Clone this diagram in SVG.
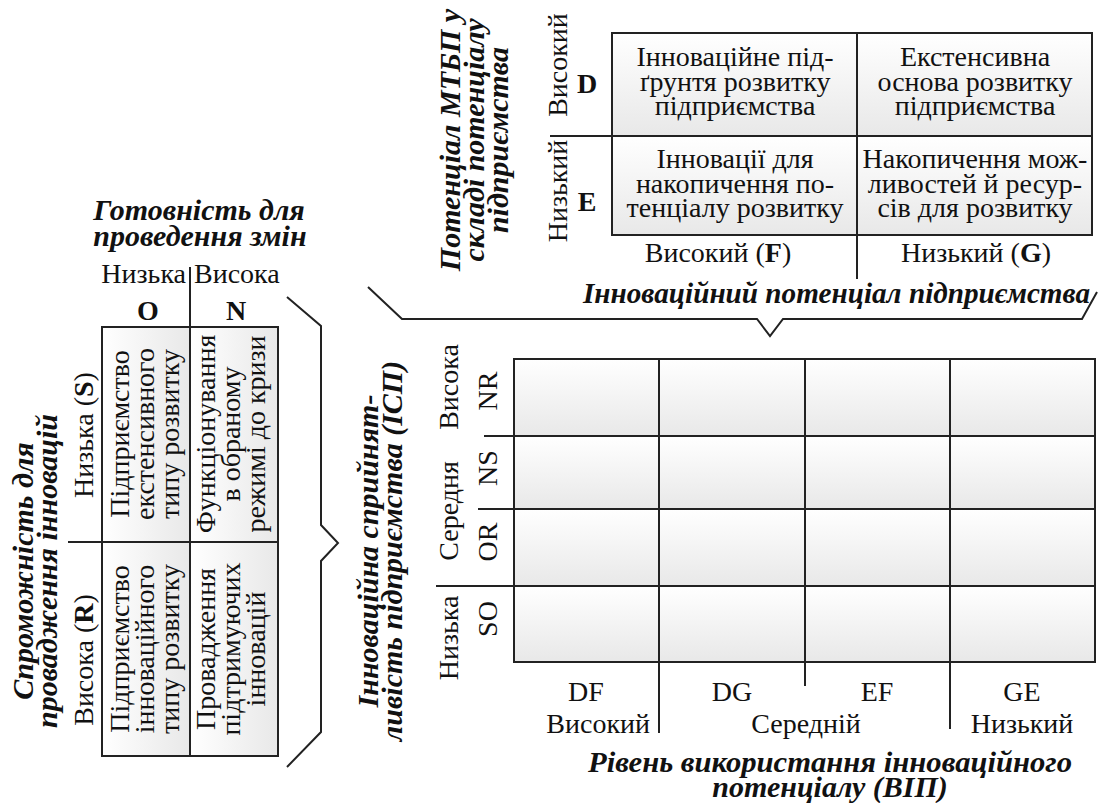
<svg xmlns="http://www.w3.org/2000/svg" width="1101" height="803" viewBox="0 0 1101 803">
<defs>
<linearGradient id="gv" x1="0" y1="0" x2="0" y2="1"><stop offset="0" stop-color="#ffffff"/><stop offset="1" stop-color="#e8e8e8"/></linearGradient>
<linearGradient id="gh" x1="0" y1="0" x2="1" y2="0"><stop offset="0" stop-color="#ffffff"/><stop offset="1" stop-color="#e8e8e8"/></linearGradient>
</defs>
<style>
text{font-size:28px;fill:#111}
.t{font-weight:bold;font-style:italic;font-size:30px}
.b{font-weight:bold}
.m{text-anchor:middle}
.e{text-anchor:end}
.cv{fill:url(#gv);stroke:#222;stroke-width:2}
.ch{fill:url(#gh);stroke:#222;stroke-width:2}
.ln{fill:none;stroke:#222;stroke-width:2}
.br{fill:none;stroke:#222;stroke-width:2;stroke-linejoin:miter}
</style>
<rect width="1101" height="803" fill="#fff"/>
<g id="grid">
<rect class="cv" x="514" y="359" width="145" height="77"/>
<rect class="cv" x="659" y="359" width="146" height="77"/>
<rect class="cv" x="805" y="359" width="145" height="77"/>
<rect class="cv" x="950" y="359" width="145" height="77"/>
<rect class="cv" x="514" y="436" width="145" height="73"/>
<rect class="cv" x="659" y="436" width="146" height="73"/>
<rect class="cv" x="805" y="436" width="145" height="73"/>
<rect class="cv" x="950" y="436" width="145" height="73"/>
<rect class="cv" x="514" y="509" width="145" height="77"/>
<rect class="cv" x="659" y="509" width="146" height="77"/>
<rect class="cv" x="805" y="509" width="145" height="77"/>
<rect class="cv" x="950" y="509" width="145" height="77"/>
<rect class="cv" x="514" y="586" width="145" height="76"/>
<rect class="cv" x="659" y="586" width="146" height="76"/>
<rect class="cv" x="805" y="586" width="145" height="76"/>
<rect class="cv" x="950" y="586" width="145" height="76"/>
</g>
<g font-family="Liberation Serif, DejaVu Serif, serif">

<!-- Top matrix -->
<g id="top-title">
<text class="t m" transform="translate(460,140) rotate(-90)"><tspan x="0" y="0">Потенціал МТБП у</tspan><tspan x="0" dy="24">складі потенціалу</tspan><tspan x="0" dy="24">підприємства</tspan></text>
</g>
<g id="top-row-labels">
<text class="m" transform="translate(567,65) rotate(-90)">Високий</text>
<text class="m" transform="translate(567,191) rotate(-90)">Низький</text>
<text class="b m" x="587" y="93">D</text>
<text class="b m" x="587" y="211">E</text>
</g>
<g id="cell-DF">
<rect class="cv" x="612" y="33" width="245" height="103"/>
<text class="m"><tspan x="735" y="66">Інноваційне під-</tspan><tspan x="735" y="91">ґрунтя розвитку</tspan><tspan x="735" y="115">підприємства</tspan></text>
</g>
<g id="cell-DG">
<rect class="cv" x="857" y="33" width="235" height="103"/>
<text class="m"><tspan x="975" y="66">Екстенсивна</tspan><tspan x="975" y="91">основа розвитку</tspan><tspan x="975" y="115">підприємства</tspan></text>
</g>
<g id="cell-EF">
<rect class="cv" x="612" y="136" width="245" height="99"/>
<text class="m"><tspan x="735" y="168">Інновації для</tspan><tspan x="735" y="193">накопичення по-</tspan><tspan x="735" y="217">тенціалу розвитку</tspan></text>
</g>
<g id="cell-EG">
<rect class="cv" x="857" y="136" width="235" height="99"/>
<text class="m"><tspan x="975" y="168">Накопичення мож-</tspan><tspan x="975" y="193">ливостей й ресур-</tspan><tspan x="975" y="217">сів для розвитку</tspan></text>
</g>
<g id="top-col-labels">
<text class="m" x="718" y="262">Високий (<tspan class="b">F</tspan>)</text>
<text class="m" x="976" y="262">Низький (<tspan class="b">G</tspan>)</text>
<text class="t e" x="1090" y="303" textLength="507" lengthAdjust="spacingAndGlyphs">Інноваційний потенціал підприємства</text>
</g>

<!-- Left matrix -->
<g id="left-title">
<text class="t m" x="199" y="220">Готовність для</text>
<text class="t m" x="200" y="246">проведення змін</text>
<text class="e" x="186" y="283">Низька</text>
<text x="194" y="283">Висока</text>
<text class="b m" x="148" y="320">O</text>
<text class="b m" x="236" y="320">N</text>
</g>
<g id="left-side-title">
<text class="t m" transform="translate(33,571) rotate(-90)"><tspan x="0" y="0">Спроможність для</tspan><tspan x="0" dy="24">провадження інновацій</tspan></text>
<text class="m" transform="translate(93,435) rotate(-90)">Низька (<tspan class="b">S</tspan>)</text>
<text class="m" transform="translate(93,660) rotate(-90)">Висока (<tspan class="b">R</tspan>)</text>
</g>
<g id="cell-OS">
<rect class="ch" x="102" y="327" width="88" height="215"/>
<text class="m" transform="translate(129,434) rotate(-90)"><tspan x="0" y="0">Підприємство</tspan><tspan x="0" dy="25">екстенсивного</tspan><tspan x="0" dy="25">типу розвитку</tspan></text>
</g>
<g id="cell-NS">
<rect class="ch" x="190" y="327" width="88" height="215"/>
<text class="m" transform="translate(215,434) rotate(-90)"><tspan x="0" y="0">Функціонування</tspan><tspan x="0" dy="25">в обраному</tspan><tspan x="0" dy="25">режимі до кризи</tspan></text>
</g>
<g id="cell-OR">
<rect class="ch" x="102" y="542" width="88" height="214"/>
<text class="m" transform="translate(129,649) rotate(-90)"><tspan x="0" y="0">Підприємство</tspan><tspan x="0" dy="25">інноваційного</tspan><tspan x="0" dy="25">типу розвитку</tspan></text>
</g>
<g id="cell-NR">
<rect class="ch" x="190" y="542" width="88" height="214"/>
<text class="m" transform="translate(215,649) rotate(-90)"><tspan x="0" y="0">Провадження</tspan><tspan x="0" dy="25">підтримуючих</tspan><tspan x="0" dy="25">інновацій</tspan></text>
</g>

<!-- Bottom grid -->
<g id="grid-title">
<text class="t m" transform="translate(378,551) rotate(-90)"><tspan x="0" y="0">Інноваційна сприйнят-</tspan><tspan x="0" dy="24">ливість підприємства (ІСП)</tspan></text>
</g>
<g id="grid-row-labels">
<text class="m" transform="translate(458,387) rotate(-90)">Висока</text>
<text class="m" transform="translate(458,511) rotate(-90)">Середня</text>
<text class="m" transform="translate(458,638) rotate(-90)">Низька</text>
<text class="m" transform="translate(497,391) rotate(-90)">NR</text>
<text class="m" transform="translate(497,468) rotate(-90)">NS</text>
<text class="m" transform="translate(497,542) rotate(-90)">OR</text>
<text class="m" transform="translate(497,619) rotate(-90)">SO</text>
</g>
<g id="grid-col-labels">
<text class="m" x="586" y="701">DF</text>
<text class="m" x="732" y="701">DG</text>
<text class="m" x="877" y="701">EF</text>
<text class="m" x="1022" y="701">GE</text>
<text class="e" x="650" y="733">Високий</text>
<text class="m" x="806" y="733">Середній</text>
<text class="m" x="1022" y="733">Низький</text>
<text class="t m" x="830" y="772" textLength="484" lengthAdjust="spacingAndGlyphs">Рівень використання інноваційного</text>
<text class="t m" x="830" y="797">потенціалу (ВІП)</text>
</g>
</g>

<!-- Connectors: dividers and braces -->
<g id="connectors">
<path class="ln" d="M857,33 V279 M550,136 H612"/>
<path class="ln" d="M190,267 V327 M68,542 H102"/>
<path class="ln" d="M484,436 H514 M478,509 H514 M436,586 H514 M659,662 V733 M805,662 V686 M950,662 V729"/>
<polyline class="br" points="368,287 402,319 757,319 770,336 783,319 1082,319 1097,292"/>
<polyline class="br" points="287,297 321,326 321,525 338,543 321,561 321,732 287,767"/>
</g>
</svg>
